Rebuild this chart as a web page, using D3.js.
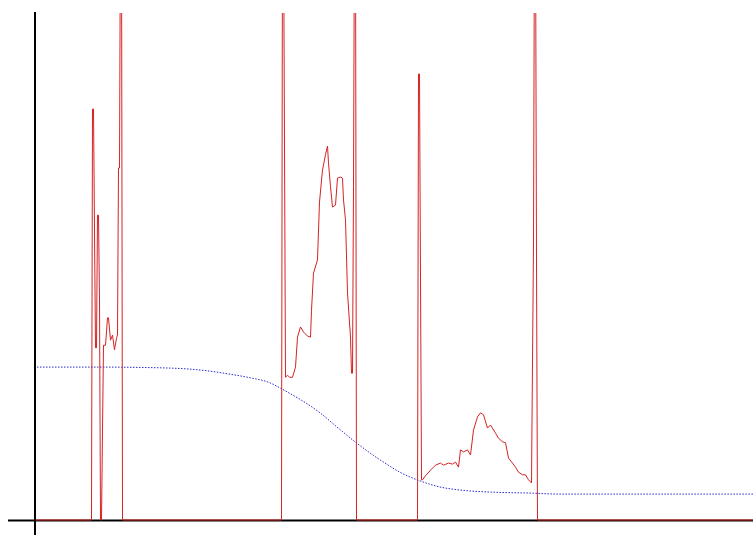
<!DOCTYPE html>
<html>
<head>
<meta charset="utf-8">
<script src="https://cdn.jsdelivr.net/npm/d3@7"></script>
<style>
  html, body { margin: 0; padding: 0; background: #ffffff; }
  svg { display: block; }
</style>
</head>
<body>
<svg id="chart" width="753" height="535"></svg>
<script>
// ---- data ----
const redX = [0, 56, 57, 58, 59, 60, 61, 62, 63, 64, 65, 66, 67, 68, 70, 72, 73, 75, 77, 79, 81, 82, 83, 84, 85, 86, 87,
  246, 247, 248, 250, 252, 254, 257, 260, 262, 265, 268, 272, 275, 276, 278, 282, 284, 287, 290, 292, 293, 295, 297, 300, 302, 305, 307, 308, 310, 312, 315, 316, 317, 318, 319, 320, 321,
  382, 383, 384, 385, 386, 387, 390, 395, 400, 405, 408, 413, 417, 420, 423, 425, 428, 432, 435, 438, 442, 445, 448, 452, 455, 460, 463, 467, 470, 473, 477, 480, 483, 487, 490, 493, 496, 498, 499, 500, 501, 502, 718];
const redY = [0, 0, 80.9, 80.9, 57.1, 33.9, 33.9, 60.0, 60.0, 43.3, 0, 0, 17.7, 34.4, 34.4, 39.8, 39.8, 35.4, 36.4, 33.5, 35.8, 36.4, 69.3, 69.3, 120, 120, 0,
  0, 120, 120, 28.1, 28.5, 28.1, 28.1, 30.1, 36.0, 38.0, 37.0, 36.2, 36.0, 41.3, 48.6, 51.2, 62.6, 68.9, 71.9, 73.6, 70.3, 65.6, 61.6, 62.0, 67.3, 67.5, 67.3, 63.0, 59.1, 44.7, 36.0, 28.9, 28.9, 65.6, 120, 120, 0,
  0, 87.8, 87.8, 47.8, 7.9, 7.9, 8.7, 9.8, 10.8, 11.2, 10.8, 11.2, 11.0, 11.4, 10.4, 13.8, 13.4, 13.8, 12.8, 17.7, 20.3, 21.1, 20.7, 18.1, 18.7, 17.1, 16.1, 15.4, 15.2, 12.2, 11.2, 10.4, 9.4, 8.9, 8.9, 7.9, 7.3, 54.5, 120, 120, 51.2, 0, 0];

const blueX = [2, 65, 115, 155, 175, 195, 215, 235, 245, 255, 268, 285, 302, 320, 335, 350, 365, 385, 405, 425, 455, 495, 525, 718];
const blueY = [30.1, 30.1, 30.0, 29.7, 29.3, 28.7, 28.0, 27.0, 26.0, 24.9, 23.4, 21.1, 18.3, 15.4, 13.2, 11.2, 9.4, 7.7, 6.5, 5.9, 5.5, 5.3, 5.1, 5.1];

const xDomain = [0, 718];
const yDomain = [0, 100];

// ---- layout ----
const svg = d3.select("#chart");
const W = 753, H = 535;
const mLeft = 35, mRight = 753, mTop = 12, mBottom = 520;

const x = d3.scaleLinear().domain(xDomain).range([mLeft, mRight]);
const y = d3.scaleLinear().domain(yDomain).range([mBottom, mTop]);

svg.append("rect").attr("width", W).attr("height", H).attr("fill", "#fff");

svg.append("defs").append("clipPath").attr("id", "plotclip")
  .append("rect").attr("x", mLeft).attr("y", mTop + 1).attr("width", mRight - mLeft).attr("height", mBottom - mTop + 2);

// axes
svg.append("line")
  .attr("x1", x(0)).attr("x2", x(0))
  .attr("y1", y(100)).attr("y2", H)
  .attr("stroke", "#000").attr("stroke-width", 2);
svg.append("line")
  .attr("x1", 8).attr("x2", W)
  .attr("y1", y(0) + 0.5).attr("y2", y(0) + 0.5)
  .attr("stroke", "#000").attr("stroke-width", 2);

const g = svg.append("g").attr("clip-path", "url(#plotclip)");

const blueData = blueX.map((d, i) => [d, blueY[i]]);
const redData = redX.map((d, i) => [d, redY[i]]);

g.append("path")
  .datum(blueData)
  .attr("d", d3.line().x(d => x(d[0])).y(d => y(d[1])).curve(d3.curveMonotoneX))
  .attr("fill", "none")
  .attr("stroke", "#2a2ad0")
  .attr("stroke-width", 1)
  .attr("stroke-dasharray", "1.5,1.5");

g.append("path")
  .datum(redData)
  .attr("d", d3.line().x(d => x(d[0]) + 0.5).y(d => y(d[1])))
  .attr("fill", "none")
  .attr("stroke", "#d42424")
  .attr("stroke-width", 1);
</script>
</body>
</html>
